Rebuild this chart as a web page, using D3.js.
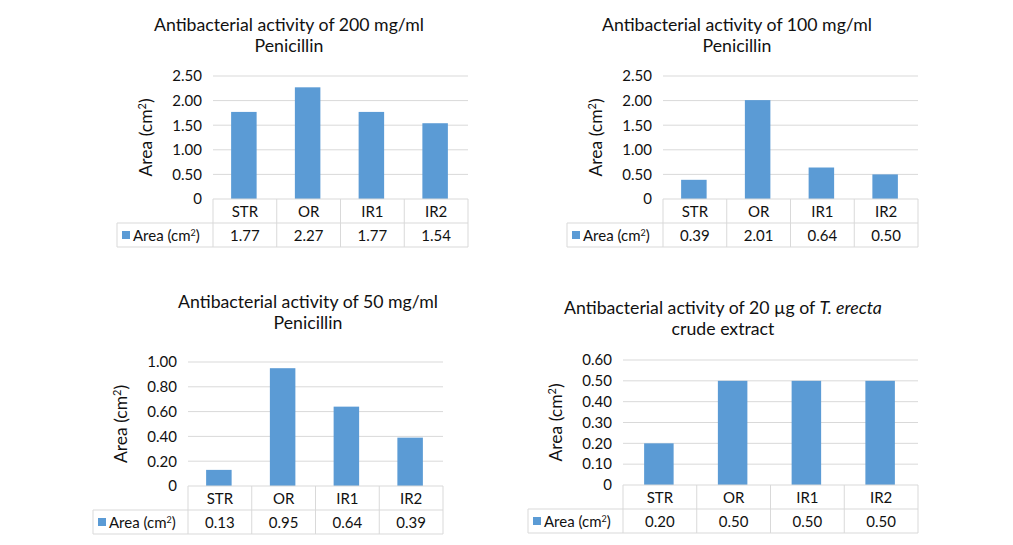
<!DOCTYPE html>
<html>
<head>
<meta charset="utf-8">
<script src="https://cdn.jsdelivr.net/npm/d3@7"></script>
<style>
  body { margin: 0; background: #fff; }
  text { font-family: "Lato", "Open Sans", sans-serif; fill: #111; }
</style>
</head>
<body>
<svg id="svg1" width="1013" height="545"></svg>
<script>
// data
var categories = ["STR", "OR", "IR1", "IR2"];
var seriesName = "Area (cm";
var values200 = [1.77, 2.27, 1.77, 1.54];
var values100 = [0.39, 2.01, 0.64, 0.50];
var values50 = [0.13, 0.95, 0.64, 0.39];
var valuesExtract = [0.20, 0.50, 0.50, 0.50];
var ticks200 = [0, 0.5, 1, 1.5, 2, 2.5];
var ticks100 = [0, 0.5, 1, 1.5, 2, 2.5];
var ticks50 = [0, 0.2, 0.4, 0.6, 0.8, 1];
var ticksExtract = [0, 0.1, 0.2, 0.3, 0.4, 0.5, 0.6];
var title200 = [["Antibacterial activity of 200 mg/ml"], ["Penicillin"]];
var title100 = [["Antibacterial activity of 100 mg/ml"], ["Penicillin"]];
var title50 = [["Antibacterial activity of 50 mg/ml"], ["Penicillin"]];
var titleExtract = [["Antibacterial activity of 20 \u00b5g of ", "T. erecta"], ["crude extract"]];

var svg = d3.select("#svg1");
var barColor = "#5b9bd5",
  lineColor = "#d9d9d9";

// layout of each panel (positions only)
var panels = [
  { values: values200, ticks: ticks200, title: title200, legendX: 117, x0: 213, x1: 468, top: 76, zero: 199, titleX: 289, titleY: 31 },
  { values: values100, ticks: ticks100, title: title100, legendX: 567, x0: 663, x1: 918, top: 76, zero: 199, titleX: 737, titleY: 31 },
  { values: values50, ticks: ticks50, title: title50, legendX: 93, x0: 188, x1: 443, top: 362, zero: 486, titleX: 308, titleY: 308 },
  { values: valuesExtract, ticks: ticksExtract, title: titleExtract, legendX: 528, x0: 623, x1: 918, top: 360, zero: 485, titleX: 723, titleY: 314 }
];

var rowH = 24;

function areaLabel(sel, size) {
  sel.append("tspan").text(seriesName);
  sel.append("tspan")
    .attr("baseline-shift", "super")
    .style("font-size", Math.round(size * 0.62) + "px")
    .text("2");
  sel.append("tspan").text(")");
}

panels.forEach(function (p) {
  var yMax = p.ticks[p.ticks.length - 1];
  var colScale = d3.scaleBand().domain(categories).range([p.x0, p.x1]);
  var barW = colScale.bandwidth() * 0.4;
  var yScale = d3.scaleLinear().domain([0, yMax]).range([p.zero, p.top]);

  var g = svg.append("g");

  // title
  p.title.forEach(function (line, i) {
    var t = g.append("text")
      .attr("x", p.titleX)
      .attr("y", p.titleY + i * 21)
      .attr("text-anchor", "middle")
      .style("font-size", "17.7px");
    line.forEach(function (part, j) {
      t.append("tspan").style("font-style", j == 1 ? "italic" : "normal").text(part);
    });
  });

  // grid
  g.append("g")
    .selectAll("line")
    .data(p.ticks.slice(1))
    .enter()
    .append("line")
    .attr("x1", p.x0)
    .attr("x2", p.x1)
    .attr("y1", function (d) { return yScale(d); })
    .attr("y2", function (d) { return yScale(d); })
    .style("stroke", lineColor)
    .style("stroke-width", 1);

  // y axis labels
  var yAxis = d3.axisLeft(yScale)
    .tickValues(p.ticks)
    .tickSize(0)
    .tickPadding(11)
    .tickFormat(function (d) { return d === 0 ? "0" : d3.format(".2f")(d); });
  var ya = g.append("g").attr("transform", "translate(" + p.x0 + ",0)").call(yAxis);
  ya.select(".domain").remove();
  ya.selectAll("text").style("font-size", "15px").style("font-family", null).attr("fill", null);

  // y title
  var yt = g.append("text")
    .attr("text-anchor", "middle")
    .attr("transform", "translate(" + (p.x0 - 61) + "," + (p.top + p.zero) / 2 + ")rotate(-90)")
    .style("font-size", "17.5px");
  areaLabel(yt, 17.5);

  // bars
  g.append("g")
    .selectAll("rect")
    .data(p.values)
    .enter()
    .append("rect")
    .attr("x", function (d, i) { return colScale(categories[i]) + (colScale.bandwidth() - barW) / 2 - 1; })
    .attr("y", function (d) { return yScale(d); })
    .attr("width", barW)
    .attr("height", function (d) { return p.zero - yScale(d); })
    .style("fill", barColor);

  // data table
  var tb = g.append("g").style("stroke", lineColor).style("stroke-width", 1);
  tb.append("line").attr("x1", p.x0).attr("x2", p.x1).attr("y1", p.zero).attr("y2", p.zero);
  tb.append("line").attr("x1", p.legendX).attr("x2", p.x1).attr("y1", p.zero + rowH).attr("y2", p.zero + rowH);
  tb.append("line").attr("x1", p.legendX).attr("x2", p.x1).attr("y1", p.zero + 2 * rowH).attr("y2", p.zero + 2 * rowH);
  tb.append("line").attr("x1", p.legendX).attr("x2", p.legendX).attr("y1", p.zero + rowH).attr("y2", p.zero + 2 * rowH);
  tb.selectAll(".v")
    .data(categories)
    .enter()
    .append("line")
    .attr("x1", function (d) { return colScale(d); })
    .attr("x2", function (d) { return colScale(d); })
    .attr("y1", p.zero)
    .attr("y2", p.zero + 2 * rowH);
  tb.append("line").attr("x1", p.x1).attr("x2", p.x1).attr("y1", p.zero).attr("y2", p.zero + 2 * rowH);

  g.append("g")
    .selectAll("text")
    .data(categories)
    .enter()
    .append("text")
    .attr("x", function (d) { return colScale(d) + colScale.bandwidth() / 2; })
    .attr("y", p.zero + 18)
    .attr("text-anchor", "middle")
    .style("font-size", "15px")
    .text(function (d) { return d; });

  g.append("g")
    .selectAll("text")
    .data(p.values)
    .enter()
    .append("text")
    .attr("x", function (d, i) { return colScale(categories[i]) + colScale.bandwidth() / 2; })
    .attr("y", p.zero + rowH + 18)
    .attr("text-anchor", "middle")
    .style("font-size", "15px")
    .text(function (d) { return d3.format(".2f")(d); });

  // legend key
  g.append("rect")
    .attr("x", p.legendX + 5)
    .attr("y", p.zero + rowH + 8)
    .attr("width", 8)
    .attr("height", 8)
    .style("fill", barColor);
  var lt = g.append("text")
    .attr("x", p.legendX + 16)
    .attr("y", p.zero + rowH + 18)
    .style("font-size", "15px");
  areaLabel(lt, 15);
});
</script>
</body>
</html>
